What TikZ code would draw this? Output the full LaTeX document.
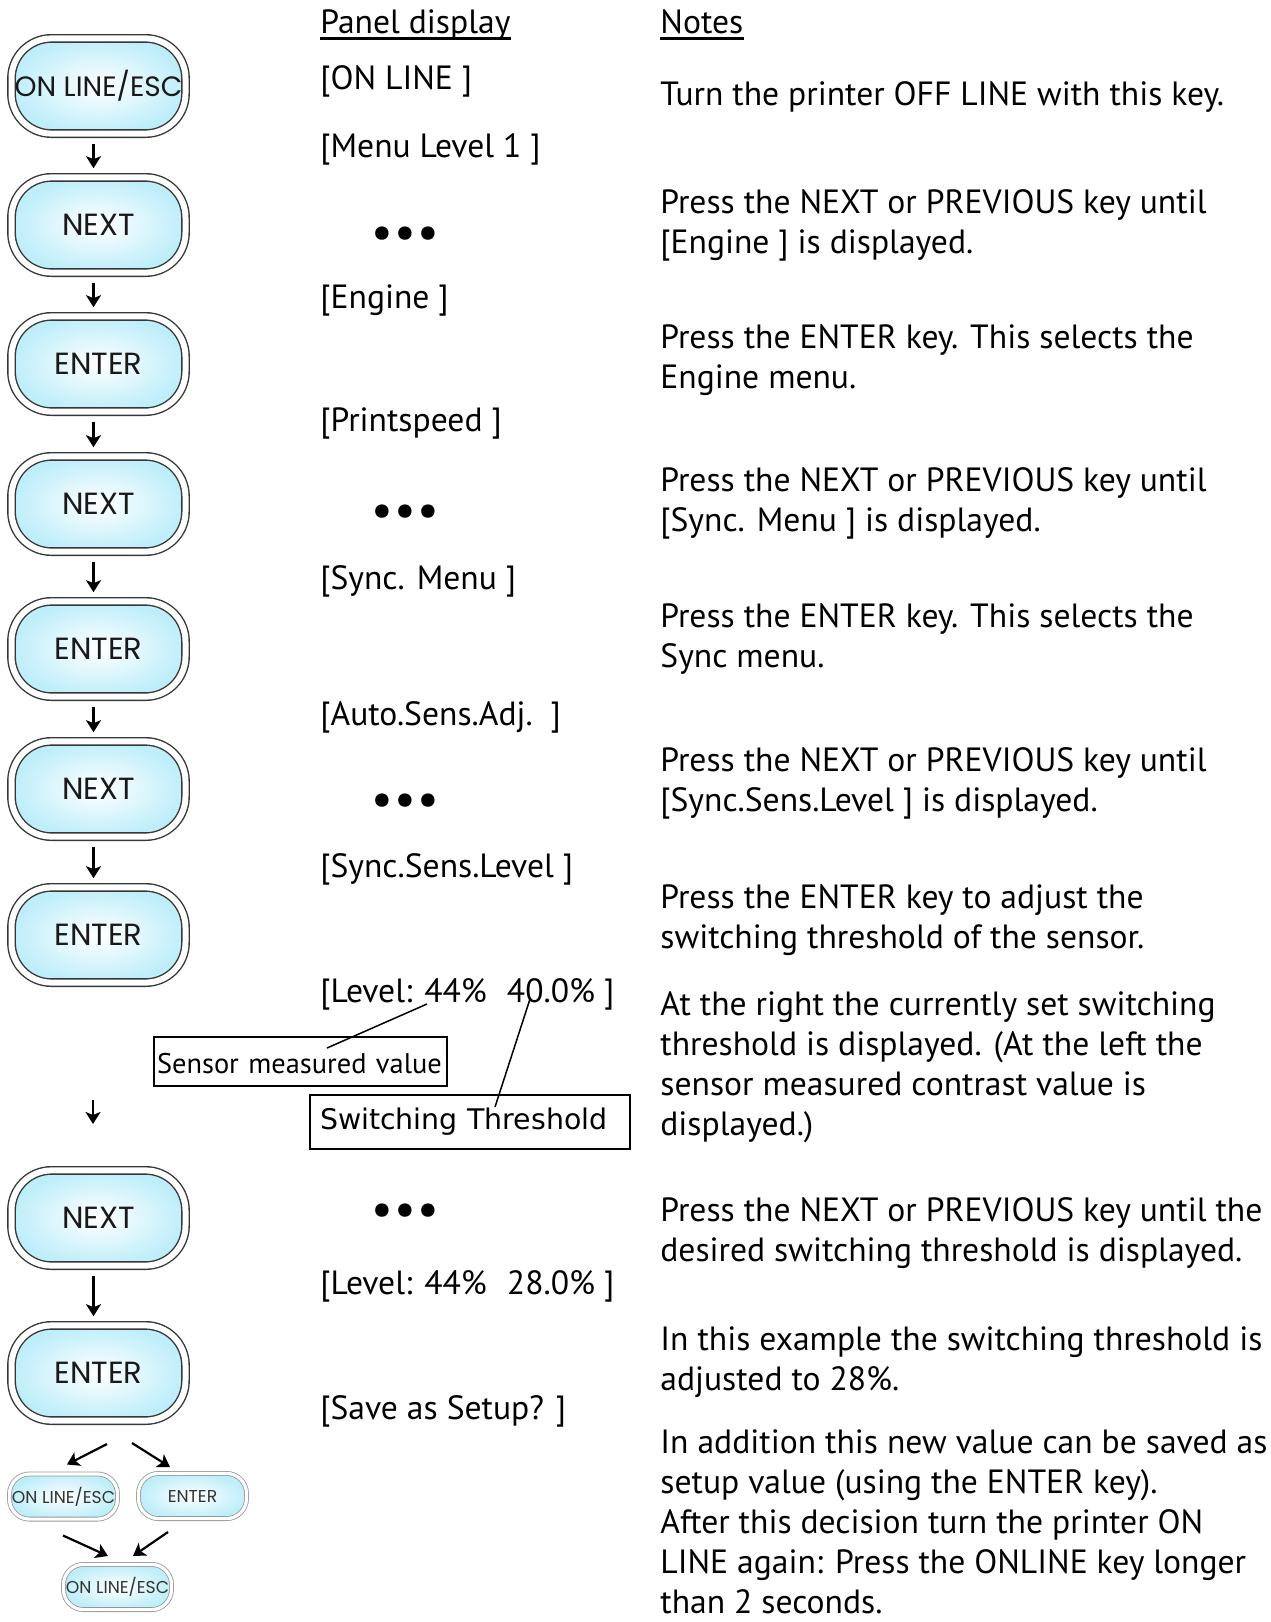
\documentclass[tikz,border=0pt]{standalone}
\usepackage{fontspec}
\setmainfont{PT Sans}
\newfontfamily\keyfont{Poppins}
\newfontfamily\tagfont{DejaVu Sans}
\usetikzlibrary{arrows.meta}
\definecolor{keyCyan}{RGB}{190, 238, 250}
\definecolor{keyRim}{RGB}{55, 55, 55}
\definecolor{smallRim}{RGB}{150, 150, 150}

\tikzset{
  bigkey/.style={rectangle, rounded corners=20pt, minimum width=87pt, minimum height=47.6pt,
    inner sep=0pt, outer sep=0pt, draw=keyRim, line width=0.7pt, double=white, double distance=3pt,
    inner color=white, outer color=keyCyan, text=black!90, font=\keyfont\fontsize{15.3}{15}\selectfont},
  smallkey/.style={rectangle, rounded corners=10pt, minimum width=54pt, minimum height=22.6pt,
    inner sep=0pt, outer sep=0pt, draw=smallRim, line width=0.4pt, double=white, double distance=1.6pt,
    inner color=white, outer color=keyCyan, text=black!80, font=\keyfont\fontsize{8.6}{9}\selectfont},
  flow/.style={-{Stealth[length=6pt, width=7.5pt, inset=1.5pt]}, line width=1.1pt},
  keyarrow/.style={flow, shorten <=5.1pt, shorten >=4.6pt},
  panel/.style={anchor=base west, inner sep=0pt, font=\fontsize{16.8}{20}\selectfont},
  dots/.style={inner sep=0pt, font=\fontsize{24}{24}\selectfont},
  note/.style={anchor=base west, inner sep=0pt, align=left, font=\fontsize{16.8}{20}\selectfont},
  tagbox/.style={draw, line width=0.75pt, anchor=north west, outer sep=0pt, align=left}
}
\newcommand{\onedot}{\makebox[11.5pt]{\textbullet}}
\newcommand{\threedots}{\onedot\onedot\onedot}

\begin{document}
\begin{tikzpicture}[x=0.5pt, y=-0.5pt]
      \useasboundingbox (0,0) rectangle (1270,1622);

      % Keys
      \node[bigkey, font=\keyfont\fontsize{14}{14}\selectfont] (online) at (98.5,86) {ON LINE/ESC};
      \node[bigkey] (next1) at (98.5,225) {NEXT};
      \node[bigkey] (enter1) at (98.5,364) {ENTER};
      \node[bigkey] (next2) at (98.5,504) {NEXT};
      \node[bigkey] (enter2) at (98.5,649) {ENTER};
      \node[bigkey] (next3) at (98.5,789) {NEXT};
      \node[bigkey] (enter3) at (98.5,935) {ENTER};
      \node[bigkey] (next4) at (98.5,1218) {NEXT};
      \node[bigkey] (enter4) at (98.5,1373) {ENTER};

      % Small keys at the end
      \node[smallkey] (online2) at (63.5,1496.5) {ON LINE/ESC};
      \node[smallkey] (enter5) at (192.5,1496) {ENTER};
      \node[smallkey] (online3) at (117.5,1587) {ON LINE/ESC};

      % Arrows between the keys
      \draw[keyarrow] ([xshift=-2.5pt]online.south) -- ([xshift=-2.5pt]next1.north);
      \draw[keyarrow] ([xshift=-2.5pt]next1.south) -- ([xshift=-2.5pt]enter1.north);
      \draw[keyarrow] ([xshift=-2.5pt]enter1.south) -- ([xshift=-2.5pt]next2.north);
      \draw[keyarrow] ([xshift=-2.5pt]next2.south) -- ([xshift=-2.5pt]enter2.north);
      \draw[keyarrow] ([xshift=-2.5pt]enter2.south) -- ([xshift=-2.5pt]next3.north);
      \draw[keyarrow] ([xshift=-2.5pt]next3.south) -- ([xshift=-2.5pt]enter3.north);
      \draw[keyarrow] ([xshift=-2.5pt]next4.south) -- ([xshift=-2.5pt]enter4.north);

      % Arrow standing alone beside the boxes
      \coordinate (gapTop) at (93,1100);
      \coordinate (gapBot) at (93,1124);
      \draw[flow] (gapTop) -- (gapBot);

      % Split to the small keys and back
      \draw[flow] ([shift={(8.5,23.4)}]enter4.south) -- ([shift={(3.5,-9.4)}]online2.north);
      \draw[flow] ([shift={(33.5,22.4)}]enter4.south) -- ([shift={(-22.5,-6.4)}]enter5.north);
      \draw[flow] ([shift={(-0.5,16.4)}]online2.south) -- ([shift={(-9.5,-8.4)}]online3.north);
      \draw[flow] ([shift={(-24.5,13.4)}]enter5.south) -- ([shift={(15.5,-8.4)}]online3.north);

      % Headers
      \node[panel] (hdPanel) at (320,33) {Panel display};
      \node[panel] (hdNotes) at (660,33) {Notes};
      \draw[line width=1.2pt] ([yshift=-2.8pt]hdPanel.base west) -- ([yshift=-2.8pt]hdPanel.base east);
      \draw[line width=1.2pt] ([yshift=-2.8pt]hdNotes.base west) -- ([yshift=-2.8pt]hdNotes.base east);

      % Panel display
      \node[panel] (pOnline) at (320,89) {[ON LINE ]};
      \node[panel] (pMenu) at (320,157) {[Menu Level 1 ]};
      \node[dots] (dots1) at (405,238) {\threedots};
      \node[panel] (pEngine) at (320,308) {[Engine ]};
      \node[panel] (pSpeed) at (320,431) {[Printspeed ]};
      \node[dots] (dots2) at (405,516) {\threedots};
      \node[panel] (pSync) at (320,589) {[Sync. Menu ]};
      \node[panel] (pAuto) at (320,725) {[Auto.Sens.Adj.\ \ ]};
      \node[dots] (dots3) at (405,805) {\threedots};
      \node[panel] (pSens) at (320,877) {[Sync.Sens.Level ]};
      \node[panel] (pLevelA) at (320,1002) {[Level: 44\%\hspace{10pt}40.0\% ]};
      \node[dots] (dots4) at (405,1215) {\threedots};
      \node[panel] (pLevelB) at (320,1294) {[Level: 44\%\hspace{10pt}28.0\% ]};
      \node[panel] (pSave) at (320,1419) {[Save as Setup? ]};

      % Callouts on the level display
      \node[tagbox, text width=143.5pt, inner xsep=1.5pt, inner ysep=0pt, text height=18pt, text depth=6.5pt,
        font=\fontsize{14.2}{16}\selectfont] (sensor) at (154,1037) {Sensor measured value};
      \node[tagbox, text width=150pt, inner xsep=5pt, inner ysep=0pt, minimum height=27pt,
        font=\tagfont\fontsize{14.2}{16}\selectfont] (thresh) at (310,1095) {Switching Threshold};
      \coordinate (m44) at (427,1004);
      \coordinate (m40) at (530,999);
      \draw[line width=0.75pt] (m44) -- ([shift={(173,11)}]sensor.north west);
      \draw[line width=0.75pt] (m40) -- ([shift={(185,12)}]thresh.north west);

      % Notes (each node sits on the baseline of its last line)
      \node[note] (n1) at (660,105) {Turn the printer OFF LINE with this key.};
      \node[note] (n2) at (660,253) {Press the NEXT or PREVIOUS key until\\{}[Engine ] is displayed.};
      \node[note] (n3) at (660,388) {Press the ENTER key. This selects the\\Engine menu.};
      \node[note] (n4) at (660,531) {Press the NEXT or PREVIOUS key until\\{}[Sync. Menu ] is displayed.};
      \node[note] (n5) at (660,667) {Press the ENTER key. This selects the\\Sync menu.};
      \node[note] (n6) at (660,811) {Press the NEXT or PREVIOUS key until\\{}[Sync.Sens.Level ] is displayed.};
      \node[note] (n7) at (660,948) {Press the ENTER key to adjust the\\switching threshold of the sensor.};
      \node[note] (n8) at (660,1135) {At the right the currently set switching\\threshold is displayed. (At the left the\\sensor measured contrast value is\\displayed.)};
      \node[note] (n9) at (660,1261) {Press the NEXT or PREVIOUS key until the\\desired switching threshold is displayed.};
      \node[note] (n10) at (660,1390) {In this example the switching threshold is\\adjusted to 28\%.};
      \node[note] (n11) at (660,1613) {In addition this new value can be saved as\\setup value (using the ENTER key).\\After this decision turn the printer ON\\LINE again: Press the ONLINE key longer\\than 2 seconds.};
    \end{tikzpicture}
\end{document}
